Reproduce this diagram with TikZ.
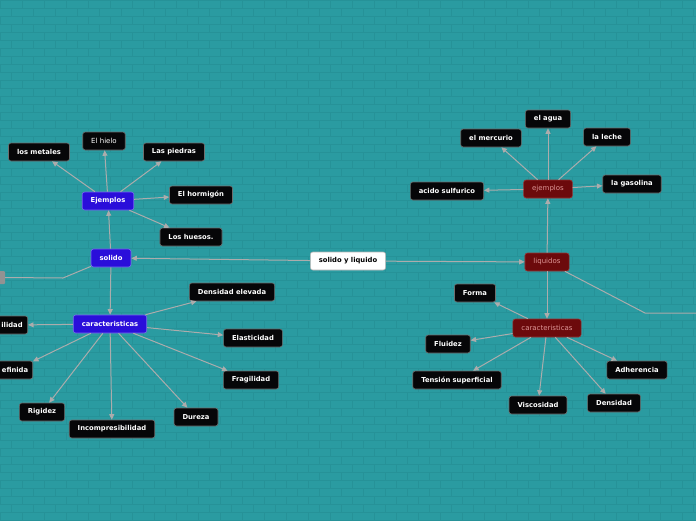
\documentclass[tikz,border=0pt]{standalone}
\usepackage{fontspec}
\setmainfont{DejaVu Sans}
\usetikzlibrary{arrows.meta}
\definecolor{bg}{RGB}{42,155,161}
\definecolor{brick}{RGB}{38,146,152}
\definecolor{edge}{RGB}{172,172,172}
\definecolor{leaffill}{RGB}{6,6,8}
\definecolor{leafdraw}{RGB}{110,110,110}
\definecolor{bluefill}{RGB}{42,14,218}
\definecolor{bluedraw}{RGB}{120,105,240}
\definecolor{redfill}{RGB}{108,10,12}
\definecolor{reddraw}{RGB}{150,50,50}
\definecolor{redtext}{RGB}{222,150,150}
\tikzset{
  box/.style={rounded corners=2.5pt, line width=0.6pt, minimum height=18pt, inner xsep=8.5pt, inner ysep=2pt, font=\fontsize{6.8}{7}\selectfont\bfseries},
  leaf/.style={box, fill=leaffill, draw=leafdraw, text=white},
  bluebox/.style={box, fill=bluefill, draw=bluedraw, text=white},
  redbox/.style={box, fill=redfill, draw=reddraw, text=redtext, font=\fontsize{7}{7}\selectfont},
  rootbox/.style={box, fill=white, draw=black!30, text=black},
  conn/.style={draw=edge, line width=1pt},
  arr/.style={conn, -{Triangle[length=5.5pt,width=5pt]}},
}
\begin{document}
\begin{tikzpicture}[x=1pt,y=-1pt]
\fill[bg] (0,0) rectangle (696,520);
\useasboundingbox (0,0) rectangle (696,520);
\begin{scope}
\clip (0,0) rectangle (696,520);
\foreach \r in {0,...,65}{
  \pgfmathsetmacro{\yy}{\r*8}
  \draw[brick, line width=0.4pt] (0,\yy) -- (696,\yy);
  \pgfmathsetmacro{\off}{mod(\r,2)*11}
  \foreach \c in {0,...,32}{
    \pgfmathsetmacro{\xx}{\off+\c*22}
    \draw[brick, line width=0.4pt] (\xx,\yy) -- (\xx,\yy+8);
  }
}
\end{scope}

% nodes
\node[rootbox] (root) at (348,261) {solido y liquido};
\node[bluebox] (solido) at (111,258) {solido};
\node[bluebox] (ejS) at (108,201) {Ejemplos};
\node[leaf] (metales) at (39,152) {los metales};
\node[leaf, font=\fontsize{7}{7}\selectfont] (hielo) at (104,141) {El hielo};
\node[leaf] (piedras) at (174,152) {Las piedras};
\node[leaf] (hormigon) at (201,195) {El hormigón};
\node[leaf] (huesos) at (191,237) {Los huesos.};
\node[bluebox] (carS) at (110,324) {caracteristicas};
\node[leaf] (densEl) at (232,292) {Densidad elevada};
\node[leaf] (elast) at (253,338) {Elasticidad};
\node[leaf] (fragil) at (251,380) {Fragilidad};
\node[leaf] (dureza) at (196,417) {Dureza};
\node[leaf] (incomp) at (112,429) {Incompresibilidad};
\node[leaf] (rigidez) at (42,412) {Rigidez};
\node[leaf, anchor=east, inner xsep=4.5pt] (definida) at (33,370) {efinida};
\node[leaf, anchor=east, inner xsep=5pt] (ilidad) at (28,325) {ilidad};
\node[fill=edge!85!black, rounded corners=1pt, minimum width=6pt, minimum height=13pt, inner sep=0pt] (tab) at (2,277.5) {};

\node[redbox] (liquidos) at (547,262) {liquidos};
\node[redbox] (ejL) at (548,189) {ejemplos};
\node[leaf] (mercurio) at (491,138) {el mercurio};
\node[leaf] (agua) at (548,119) {el agua};
\node[leaf] (leche) at (607,137) {la leche};
\node[leaf] (gasolina) at (632,184) {la gasolina};
\node[leaf] (acido) at (447,191) {acido sulfurico};
\node[redbox] (carL) at (547,328) {caracteristicas};
\node[leaf] (forma) at (475,293) {Forma};
\node[leaf] (fluidez) at (448,344) {Fluidez};
\node[leaf] (tension) at (457,380) {Tensión superficial};
\node[leaf] (visc) at (538,405) {Viscosidad};
\node[leaf] (densidad) at (614,403) {Densidad};
\node[leaf] (adher) at (637,370) {Adherencia};

\coordinate (bendL) at (63,278);
\coordinate (bendR) at (645,313);
\coordinate (endR) at (697,313);

% connectors
\path[arr] (root) -- (solido);
\path[arr] (root) -- (liquidos);
\path[arr] (solido) -- (ejS);
\path[arr] (solido) -- (carS);
\path[conn] (solido) -- (bendL) -- (tab.east);
\foreach \t in {metales,hielo,piedras,hormigon,huesos}{\path[arr] (ejS) -- (\t);}
\foreach \t in {densEl,elast,fragil,dureza,incomp,rigidez,definida,ilidad}{\path[arr] (carS) -- (\t);}
\path[arr] (liquidos) -- (ejL);
\path[arr] (liquidos) -- (carL);
\path[conn] (liquidos) -- (bendR) -- (endR);
\foreach \t in {mercurio,agua,leche,gasolina,acido}{\path[arr] (ejL) -- (\t);}
\foreach \t in {forma,fluidez,tension,visc,densidad,adher}{\path[arr] (carL) -- (\t);}
\end{tikzpicture}
\end{document}
